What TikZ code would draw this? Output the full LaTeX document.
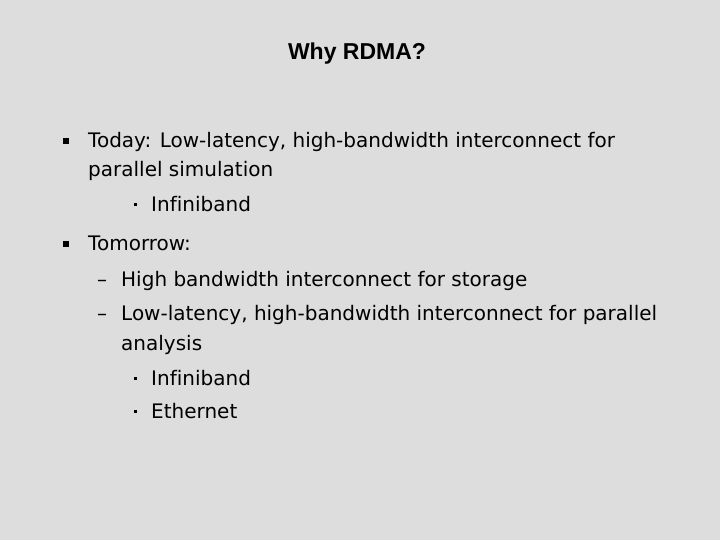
\documentclass[tikz,border=0pt]{standalone}
\usepackage{fontspec}
\setmainfont{Liberation Sans}
\newfontfamily\bodyfont[Ligatures={TeX,NoCommon}]{DejaVu Sans}
\definecolor{slidebg}{RGB}{221,221,221}

\begin{document}
\begin{tikzpicture}[x=1bp, y=-1bp,
    item/.style={anchor=base west, inner sep=0pt, font=\bodyfont\fontsize{20bp}{24bp}\selectfont},
    sqbullet/.style={fill=black, minimum size=6bp, inner sep=0pt},
    dotbullet/.style={fill=black, minimum size=3bp, inner sep=0pt}]
          \fill[slidebg] (0,0) rectangle (720,540);
          \useasboundingbox (0,0) rectangle (720,540);

          % title
          \node[anchor=base, inner sep=0pt, font=\fontsize{23bp}{27bp}\selectfont\bfseries] (title) at (357,60) {Why RDMA?};

          % first bullet
          \node[sqbullet] (sq1) at (66,141) {};
          \node[item] (today) at (88,148) {Today: Low-latency, high-bandwidth interconnect for};
          \node[item] (todaycont) at (88,177) {parallel simulation};
          \node[dotbullet] (dot1) at (135,205) {};
          \node[item] (ib1) at (151,212) {Infiniband};

          % second bullet
          \node[sqbullet] (sq2) at (66,244) {};
          \node[item] (tomorrow) at (88,251) {Tomorrow:};
          \node[item] (dash1) at (97,287) {–};
          \node[item] (storage) at (121,287) {High bandwidth interconnect for storage};
          \node[item] (dash2) at (97,320) {–};
          \node[item] (analysis) at (121,320) {Low-latency, high-bandwidth interconnect for parallel};
          \node[item] (analysiscont) at (121,350) {analysis};
          \node[dotbullet] (dot2) at (135,378) {};
          \node[item] (ib2) at (151,385) {Infiniband};
          \node[dotbullet] (dot3) at (135,411) {};
          \node[item] (eth) at (151,418) {Ethernet};

        \end{tikzpicture}
\end{document}
